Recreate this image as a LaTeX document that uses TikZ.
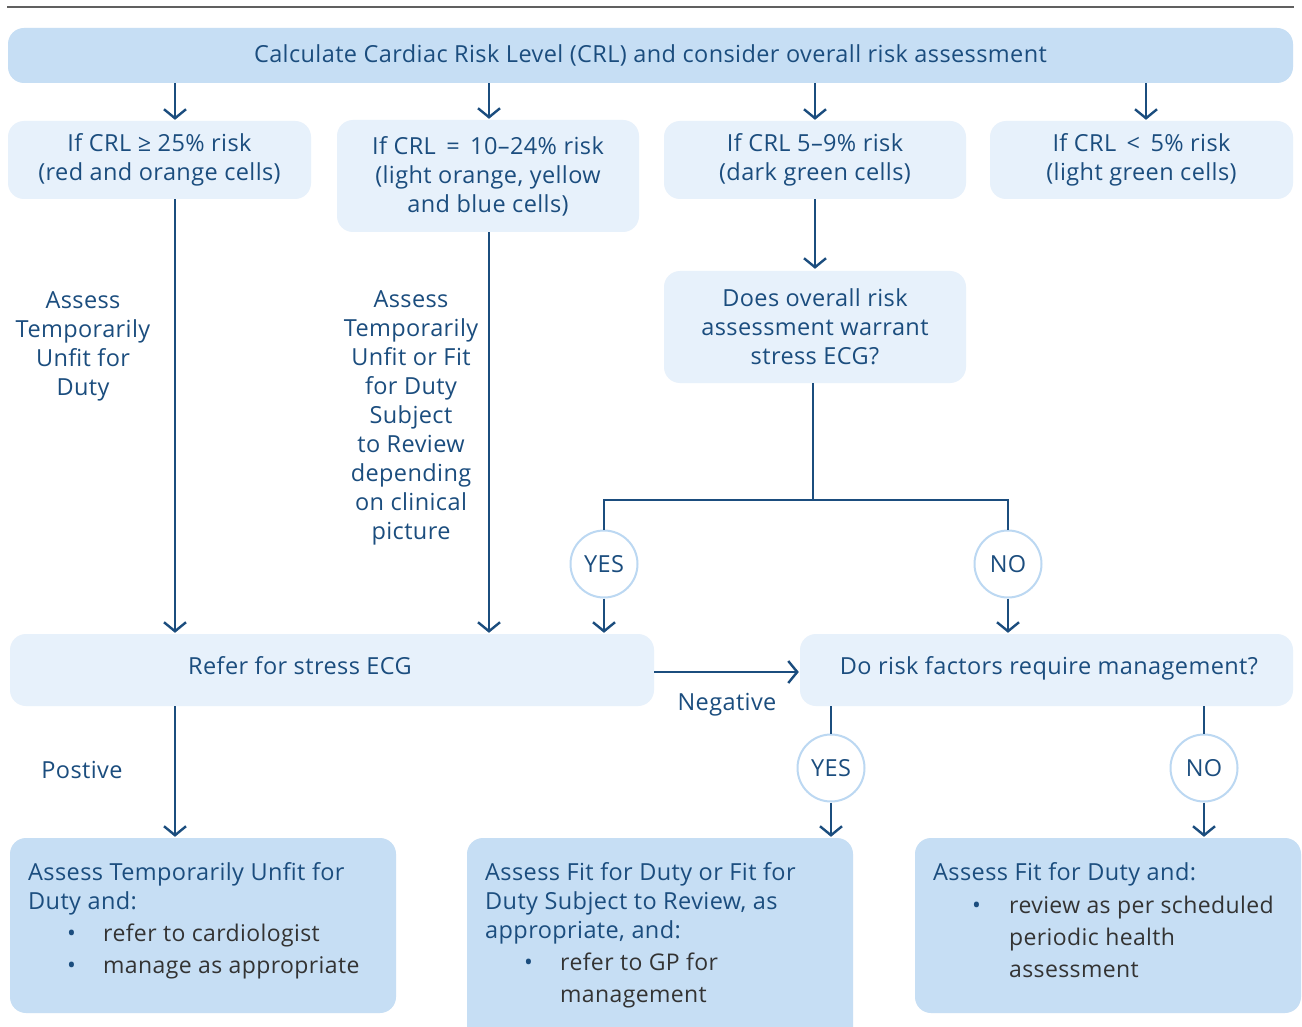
\documentclass[tikz,border=0pt]{standalone}
\usepackage{fontspec}
\setmainfont[LetterSpace=1.7]{Open Sans}
\usetikzlibrary{arrows.meta}
\definecolor{dblue}{HTML}{1B4D7E}
\definecolor{fillA}{HTML}{C6DEF4}
\definecolor{fillB}{HTML}{E7F1FB}
\definecolor{ring}{HTML}{BCD8F2}
\definecolor{bodytxt}{HTML}{333333}
\definecolor{rulegray}{HTML}{606060}
\tikzset{
  txt/.style={font=\fontsize{23.5}{29}\selectfont, text=dblue},
  boxA/.style={txt, fill=fillA, rounded corners=16pt, align=center, inner sep=0pt},
  boxB/.style={txt, fill=fillB, rounded corners=16pt, align=center, inner sep=0pt},
  ring/.style={txt, circle, draw=ring, line width=2pt, fill=white, minimum size=67pt, inner sep=0pt},
  conn/.style={draw=dblue, line width=2.4pt},
  arr/.style={conn, -{Straight Barb[length=9pt,width=22pt]}},
  lbl/.style={txt, align=center},
  hd/.style={txt, anchor=base west, inner sep=0pt},
  bl/.style={font=\fontsize{23}{29}\selectfont, text=bodytxt, anchor=base west, inner sep=0pt},
  dot/.style={txt, anchor=base west, inner sep=0pt},
}
\begin{document}
\begin{tikzpicture}[x=1pt,y=-1pt]
\path[use as bounding box, clip] (0,0) rectangle (1302,1027);
\fill[white] (0,0) rectangle (1302,1027);
\draw[rulegray, line width=1.5pt] (7,7) -- (1294,7);

% x guides
\coordinate (xa) at (175,0);
\coordinate (xb) at (489,0);
\coordinate (xc) at (815,0);
\coordinate (xd) at (1146,0);

% top box
\node[boxA, minimum width=1285pt, minimum height=55pt] (top) at (650.5,55.5)
  {Calculate Cardiac Risk Level (CRL) and consider overall risk assessment};

% row 2
\node[boxB, minimum width=303pt, minimum height=78pt] (A) at (159.5,160)
  {If CRL ≥ 25\% risk\\(red and orange cells)};
\node[boxB, minimum width=302pt, minimum height=112pt] (B) at (488,176)
  {If CRL \,=\, 10–24\% risk\\(light orange, yellow\\and blue cells)};
\node[boxB, minimum width=302pt, minimum height=78pt] (C) at (815,160)
  {If CRL 5–9\% risk\\(dark green cells)};
\node[boxB, minimum width=303pt, minimum height=78pt] (D) at (1141.5,160)
  {If CRL \,<\, 5\% risk\\(light green cells)};

\node[boxB, minimum width=302pt, minimum height=112pt] (E) at (815,327)
  {Does overall risk\\assessment warrant\\stress ECG?};

\node[lbl] (la) at (83,346) {Assess\\Temporarily\\Unfit for\\Duty};
\node[lbl] (lb) at (411,418) {Assess\\Temporarily\\Unfit or Fit\\for Duty\\Subject\\to Review\\depending\\on clinical\\picture};

% circles
\node[ring] (yes1) at (604,564) {YES};
\node[ring] (no1) at (1008,564) {NO};

% row F/G
\node[boxB, minimum width=644pt, minimum height=72pt] (F) at (332,670) {};
\node[txt] (Ft) at (300,666) {Refer for stress ECG};
\node[boxB, minimum width=493pt, minimum height=72pt] (G) at (1046.5,670) {};
\node[txt] (Gt) at (1049,668) {Do risk factors require management?};

\node[txt] (neg) at (727,705) {Negative};
\node[txt] (pos) at (82,770) {Postive};

\node[ring] (yes2) at (831,768) {YES};
\node[ring] (no2) at (1204,768) {NO};

% bottom boxes
\node[boxA, minimum width=386pt, minimum height=175pt] (H) at (203,925.5) {};
\node[boxA, minimum width=386pt, minimum height=215pt] (I) at (660,945.5) {};
\node[boxA, minimum width=386pt, minimum height=175pt] (J) at (1108,925.5) {};

\node[hd] (h1) at (28,880) {Assess Temporarily Unfit for};
\node[hd] (h2) at (28,909) {Duty and:};
\node[dot] (h3d) at (67,941) {•};
\node[bl] (h3) at (103,941) {refer to cardiologist};
\node[dot] (h4d) at (67,973) {•};
\node[bl] (h4) at (103,973) {manage as appropriate};

\node[hd] (i1) at (485,880) {Assess Fit for Duty or Fit for};
\node[hd] (i2) at (485,909) {Duty Subject to Review, as};
\node[hd] (i3) at (485,938) {appropriate, and:};
\node[dot] (i4d) at (524,970) {•};
\node[bl] (i4) at (560,970) {refer to GP for};
\node[bl] (i5) at (560,1002) {management};

\node[hd] (j1) at (933,880) {Assess Fit for Duty and:};
\node[dot] (j2d) at (972,913) {•};
\node[bl] (j2) at (1009,913) {review as per scheduled};
\node[bl] (j3) at (1009,945) {periodic health};
\node[bl] (j4) at (1009,977) {assessment};

% connectors
\draw[arr] (top.south -| xa) -- ([yshift=1pt]A.north -| xa);
\draw[arr] (top.south -| xb) -- ([yshift=1pt]B.north -| xb);
\draw[arr] (top.south -| xc) -- ([yshift=1pt]C.north -| xc);
\draw[arr] (top.south -| xd) -- ([yshift=1pt]D.north -| xd);

\draw[arr] (A.south -| xa) -- ([yshift=1pt]F.north -| xa);
\draw[arr] (B.south -| xb) -- ([yshift=1pt]F.north -| xb);
\draw[arr] (C.south) -- ([yshift=2pt]E.north);

\draw[conn] ([xshift=-2pt]E.south) -- ++(0,117) coordinate (split);
\draw[conn] (yes1.north) |- (split) -| (no1.north);
\draw[arr] (yes1.south) -- ([yshift=1pt]F.north -| yes1);
\draw[arr] (no1.south) -- ([yshift=1pt]G.north -| no1);

\draw[arr] ([yshift=-2pt]F.east) -- ([xshift=-1pt,yshift=-2pt]G.west);
\draw[arr] (F.south -| xa) -- ([yshift=1pt]H.north -| xa);

\draw[conn] (G.south -| yes2) -- (yes2.north);
\draw[arr] (yes2.south) -- ([yshift=1pt]I.north -| yes2);
\draw[conn] (G.south -| no2) -- (no2.north);
\draw[arr] (no2.south) -- ([yshift=1pt]J.north -| no2);
\end{tikzpicture}
\end{document}
